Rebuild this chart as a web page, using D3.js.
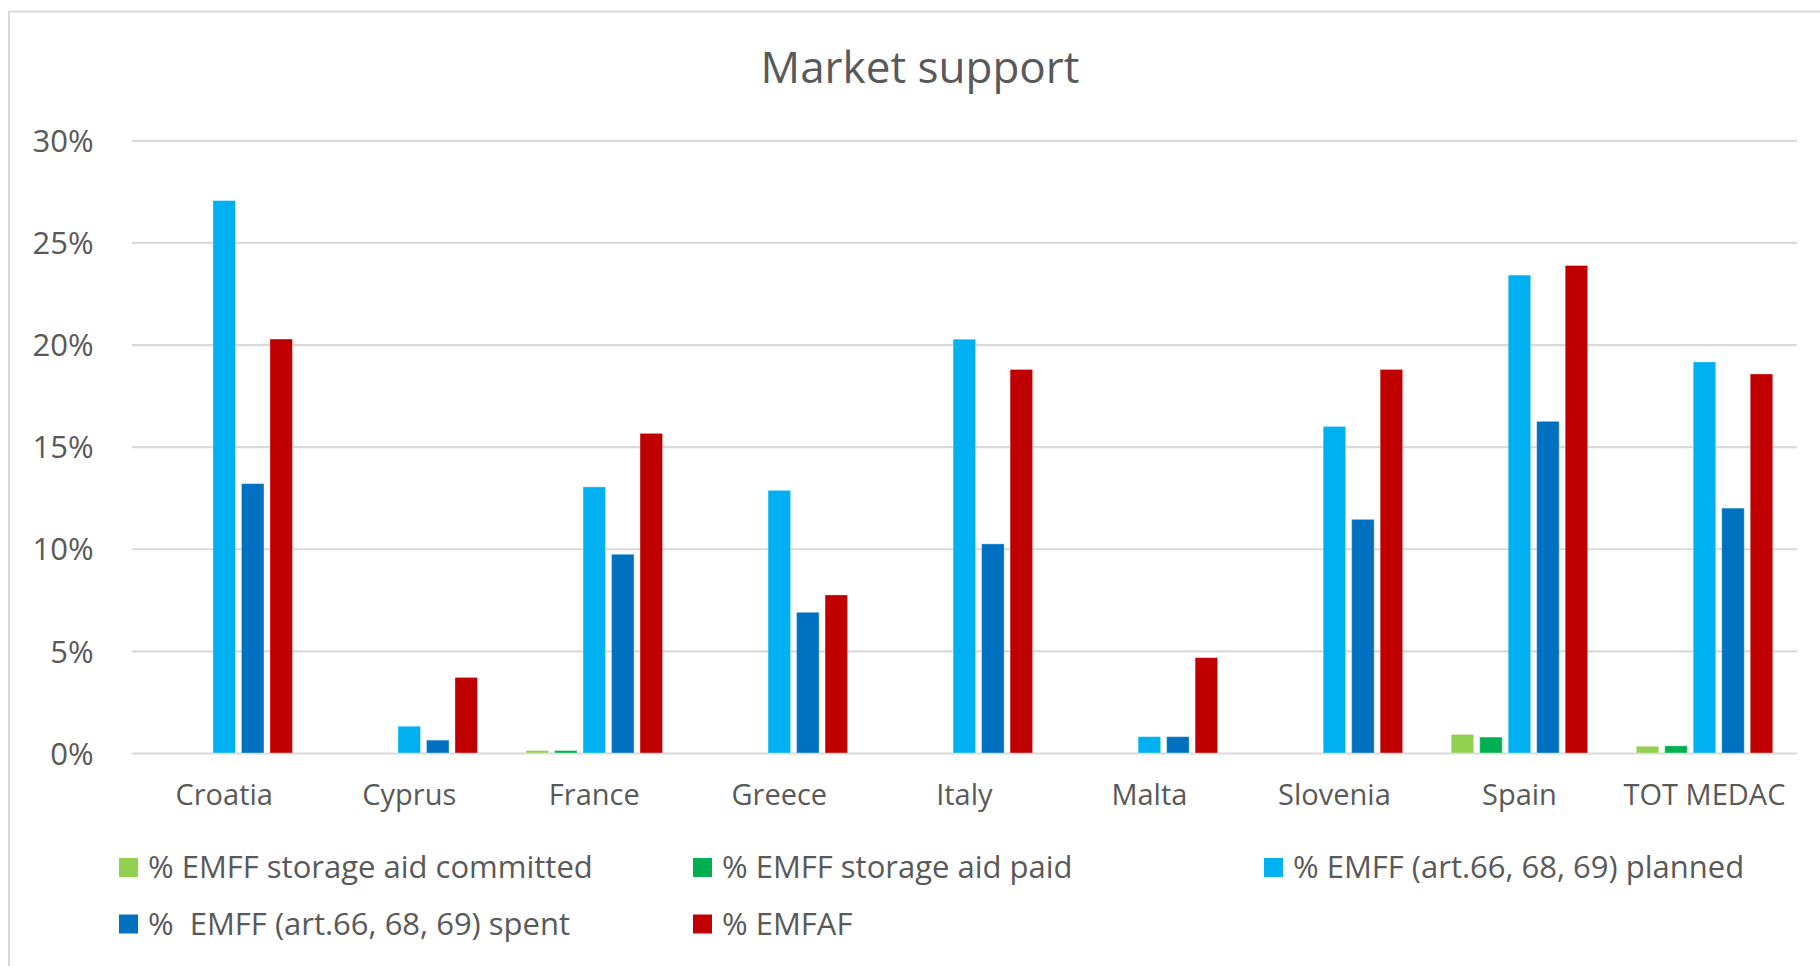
<!DOCTYPE html>
<html>
<head>
<meta charset="utf-8">
<script src="https://cdn.jsdelivr.net/npm/d3@7"></script>
<style>
  html, body { margin: 0; padding: 0; background: #fff; }
  svg text { font-family: "Open Sans", "Noto Sans", sans-serif; fill: #595959; white-space: pre; }
</style>
</head>
<body>
<svg id="chart" width="1820" height="966"></svg>
<script>
const title = "Market support";
const categories = ["Croatia", "Cyprus", "France", "Greece", "Italy", "Malta", "Slovenia", "Spain", "TOT MEDAC"];
const seriesNames = [
  "% EMFF storage aid committed",
  "% EMFF storage aid paid",
  "% EMFF (art.66, 68, 69) planned",
  "%  EMFF (art.66, 68, 69) spent",
  "% EMFAF"
];
const seriesColors = ["#92D050", "#00B050", "#00B0F0", "#0070C0", "#C00000"];
const storageCommitted = [0, 0, 0.0012, 0, 0, 0, 0, 0.0091, 0.0033];
const storagePaid      = [0, 0, 0.0012, 0, 0, 0, 0, 0.0078, 0.0035];
const planned          = [0.2705, 0.0131, 0.1303, 0.1286, 0.2026, 0.0080, 0.1599, 0.2340, 0.1915];
const spent            = [0.1319, 0.0063, 0.0973, 0.0689, 0.1024, 0.0080, 0.1144, 0.1624, 0.1199];
const emfaf            = [0.2027, 0.0370, 0.1565, 0.0774, 0.1878, 0.0467, 0.1878, 0.2387, 0.1856];
const yTicks = [0, 0.05, 0.10, 0.15, 0.20, 0.25, 0.30];

const seriesValues = [storageCommitted, storagePaid, planned, spent, emfaf];

const svg = d3.select("#chart");

// chart border
svg.append("rect")
  .attr("x", 9).attr("y", 11.5)
  .attr("width", 1830).attr("height", 1000)
  .attr("fill", "#fff").attr("stroke", "#D9D9D9").attr("stroke-width", 2);

const plot = { left: 131.7, right: 1797, top: 140.3, bottom: 753 };

const x0 = d3.scaleBand().domain(categories)
  .range([plot.left, plot.right]).paddingInner(0.23).paddingOuter(0.115);
const x1 = d3.scaleBand().domain(d3.range(seriesNames.length))
  .range([0, x0.bandwidth()]).paddingInner(0.21).paddingOuter(0.105);
const y = d3.scaleLinear().domain([0, 0.30]).range([plot.bottom, plot.top]);

// gridlines
const yAxis = d3.axisLeft(y).tickValues(yTicks)
  .tickFormat(d3.format(".0%"))
  .tickSize(-(plot.right - plot.left)).tickPadding(38);
const gy = svg.append("g").attr("transform", `translate(${plot.left},0)`).call(yAxis);
gy.select(".domain").remove();
gy.selectAll(".tick line").attr("stroke", "#D9D9D9").attr("stroke-width", 2.2);
gy.selectAll(".tick text")
  .attr("font-size", 31).attr("fill", "#595959")
  .style("font-family", '"Open Sans", sans-serif')
  .attr("dy", "0.36em");

// bars
const groups = svg.append("g").selectAll("g")
  .data(categories)
  .join("g")
  .attr("transform", d => `translate(${x0(d)},0)`);

groups.selectAll("rect")
  .data((c, ci) => seriesValues.map((vals, si) => ({ si, v: vals[ci] })))
  .join("rect")
  .filter(d => d.v > 0)
  .attr("x", d => x1(d.si))
  .attr("width", x1.bandwidth())
  .attr("y", d => y(d.v))
  .attr("height", d => y(0) - y(d.v))
  .attr("fill", d => seriesColors[d.si])
  .attr("stroke", "#fff").attr("stroke-opacity", 0.35).attr("stroke-width", 1);

// x axis
const xAxis = d3.axisBottom(x0).tickSize(0).tickPadding(0);
const gx = svg.append("g").attr("transform", `translate(0,${plot.bottom})`).call(xAxis);
gx.select(".domain").remove();
gx.selectAll(".tick text")
  .attr("font-size", 29).attr("fill", "#595959")
  .style("font-family", '"Open Sans", sans-serif')
  .attr("y", 52).attr("dy", 0);

// title
svg.append("text")
  .attr("x", 920).attr("y", 83)
  .attr("text-anchor", "middle")
  .attr("font-size", 44)
  .text(title);

// legend
const legendCols = [119, 693, 1264];
const legendRows = [867.5, 924];
const legend = svg.append("g").selectAll("g")
  .data(seriesNames)
  .join("g")
  .attr("transform", (d, i) => `translate(${legendCols[i % 3]},${legendRows[Math.floor(i / 3)]})`);
legend.append("rect")
  .attr("x", 0).attr("y", -9.5).attr("width", 19).attr("height", 19)
  .attr("fill", (d, i) => seriesColors[i]);
legend.append("text")
  .attr("x", 29).attr("y", 10.5)
  .attr("font-size", 31)
  .text(d => d);
</script>
</body>
</html>
